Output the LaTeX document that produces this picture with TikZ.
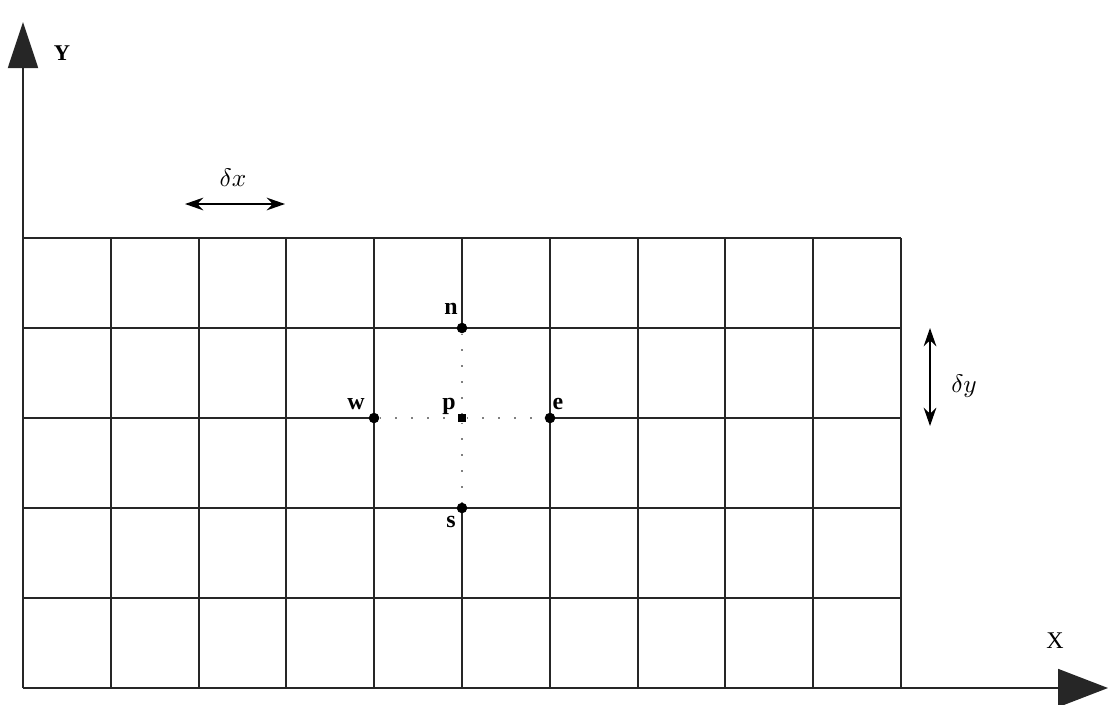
\documentclass[tikz,border=0pt]{standalone}
\usepackage{fontspec}
\setmainfont{Liberation Serif}
\usetikzlibrary{arrows.meta,calc,positioning}

\tikzset{
 gridline/.style={black!85,line width=1.3pt},
 axisline/.style={black!85,line width=1.3pt},
 gdot/.style={circle,fill=black,inner sep=0pt,minimum size=7.5pt},
 pdot/.style={rectangle,fill=black,inner sep=0pt,minimum size=6pt},
 dotline/.style={gray,line width=1.3pt,dash pattern=on 1.3pt off 10pt},
 ptlab/.style={font=\fontsize{17}{17}\selectfont\bfseries,inner sep=0pt},
 axlab/.style={font=\fontsize{15}{15}\selectfont,inner sep=0pt},
 steplab/.style={inner sep=0pt},
 steparrow/.style={line width=1.3pt,{Stealth[length=13pt,width=9pt]}-{Stealth[length=13pt,width=9pt]}}
}

\begin{document}
\begin{tikzpicture}[x=0.025cm,y=-0.025cm]
\useasboundingbox (0,0) rectangle (1109,704);
% axes
\coordinate (O) at (23,688);
\coordinate (ytip) at (23,22);
\coordinate (xtip) at (1108,688);
\draw[axisline,-{Triangle[length=1.15cm,width=0.75cm]}] (O) -- (ytip);
\draw[axisline,-{Triangle[length=1.25cm,width=0.95cm]}] (O) -- (xtip);
\node[axlab,font=\fontsize{16}{16}\selectfont\bfseries] (ylab) at (62,53) {Y};
\node[axlab,font=\fontsize{17}{17}\selectfont] (xlab) at (1055,641) {X};
% grid
\foreach \i in {1,2,3,4,6,7,8,9,10}{
 \draw[gridline] ({23+87.8*\i},238) -- ({23+87.8*\i},688);
}
\draw[gridline] (462,238) -- (462,328);
\draw[gridline] (462,508) -- (462,688);
\foreach \j in {0,1,3,4}{
 \draw[gridline] (23,{238+90*\j}) -- (901,{238+90*\j});
}
\draw[gridline] (23,418) -- (374,418);
\draw[gridline] (550,418) -- (901,418);
% stencil points
\node[gdot] (n) at (462,328) {};
\node[gdot] (s) at (462,508) {};
\node[gdot] (w) at (374,418) {};
\node[gdot] (e) at (550,418) {};
\node[pdot] (p) at (462,418) {};
\draw[dotline] (w) -- (p);
\draw[dotline] (p) -- (e);
\draw[dotline] (n) -- (p);
\draw[dotline] (p) -- (s);
\node[ptlab] (nlab) at (451,309) {n};
\node[ptlab] (slab) at (451,522) {s};
\node[ptlab] (wlab) at (356,404) {w};
\node[ptlab] (elab) at (558,404) {e};
\node[ptlab] (plab) at (449,406) {p};
% step sizes
\coordinate (dxa) at (185,204);
\coordinate (dxb) at (285,204);
\draw[steparrow] (dxa) -- (dxb);
\node[steplab] (dxlab) at (233,178) {\scalebox{1.8}{$\delta x$}};
\coordinate (dya) at (930,328);
\coordinate (dyb) at (930,426);
\draw[steparrow] (dya) -- (dyb);
\node[steplab] (dylab) at (964,386) {\scalebox{1.8}{$\delta y$}};
\end{tikzpicture}
\end{document}
